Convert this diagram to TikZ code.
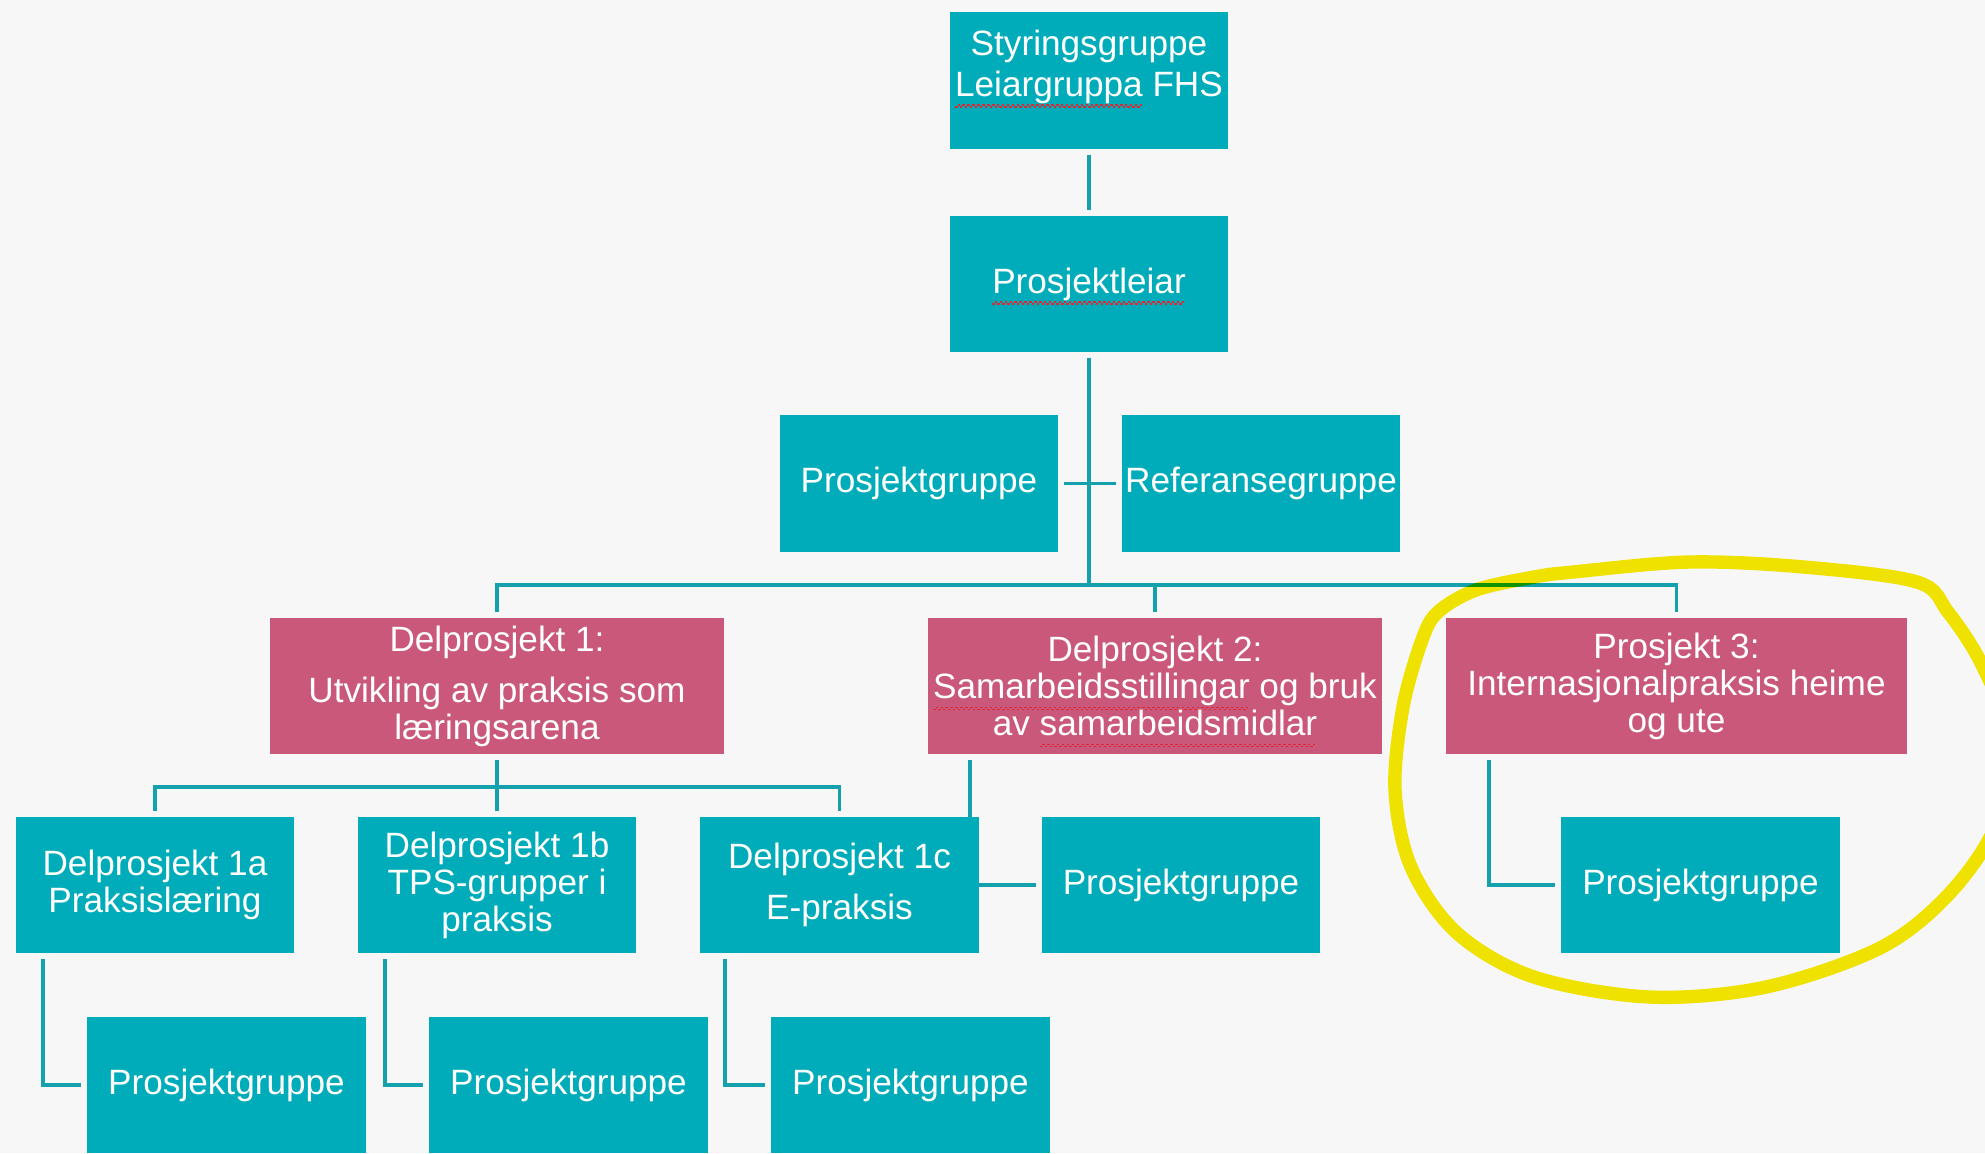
\documentclass[tikz,border=0pt]{standalone}
\usepackage{fontspec}
\setmainfont{Liberation Sans}
\usetikzlibrary{positioning, calc, backgrounds}
\definecolor{boxTeal}{RGB}{0,172,185}
\definecolor{boxPink}{RGB}{202,88,122}
\definecolor{lineTeal}{RGB}{20,160,172}
\definecolor{ringYellow}{RGB}{247,234,0}
\definecolor{pageGray}{RGB}{247,247,247}
\definecolor{spellRed}{RGB}{225,40,50}
\newcommand{\spellWave}[1]{\leavevmode\setbox0\hbox{#1}\rlap{\smash{\color{spellRed}\hbox to \wd0{\leaders\hbox{\rule[-3.3pt]{0.7pt}{0.45pt}\rule[-2.8pt]{0.7pt}{0.45pt}}\hfill}}}#1}
\tikzset{
	every text node part/.style = {align=center},
	orgBox/.style = {fill=boxTeal, text=white, inner sep=0pt, minimum width=2.78cm, minimum height=1.36cm},
	partBox/.style = {orgBox, fill=boxPink, minimum width=4.54cm},
	orgLine/.style = {draw=lineTeal, line width=1.1pt},
	gapBoth/.style = {shorten <=1.5pt, shorten >=1.5pt}
}

\begin{document}
\begin{tikzpicture}[x=0.01cm, y=-0.01cm]
	\useasboundingbox (0,0) rectangle (1985,1153);
	\tikzstyle{every node}=[font=\fontsize{10}{10.5}\selectfont]
	
	\pgfmathsetmacro{\yTop}{80.5}
	\pgfmathsetmacro{\yLead}{284}
	\pgfmathsetmacro{\yGroup}{483.5}
	\pgfmathsetmacro{\yBus}{585}
	\pgfmathsetmacro{\ySub}{686}
	\pgfmathsetmacro{\ySubBus}{787}
	\pgfmathsetmacro{\yPart}{885}
	\pgfmathsetmacro{\yLow}{1085}
	
	\node [orgBox] (styr) at (1089,\yTop) {};
	\node [text=white, font=\fontsize{10}{11.5}\selectfont] (styrText) at ([yshift=3.9pt]styr.center) {Styringsgruppe\\\spellWave{Leiargruppa} FHS};
	\node [orgBox] (leiar) at (1089,\yLead) {\spellWave{Prosjektleiar}};
	\node [orgBox] (grpTop) at (919,\yGroup) {Prosjektgruppe};
	\node [orgBox] (refGrp) at (1261,\yGroup) {Referansegruppe};
	
	\node [partBox] (dp1) at (497,\ySub) {Delprosjekt 1:\\[4pt]Utvikling av praksis som\\læringsarena};
	\node [partBox] (dp2) at (1155,\ySub) {Delprosjekt 2:\\\spellWave{Samarbeidsstillingar} og bruk\\av \spellWave{samarbeidsmidlar}};
	\node [partBox, minimum width=4.61cm] (p3) at (1676.5,\ySub) {Prosjekt 3:\\Internasjonalpraksis heime\\og ute};
	
	\node [orgBox] (dp1a) at (155,\yPart) {Delprosjekt 1a\\Praksislæring};
	\node [orgBox] (dp1b) at (497,\yPart) {Delprosjekt 1b\\TPS-grupper i\\praksis};
	\node [orgBox] (dp1c) at (839.5,\yPart) {Delprosjekt 1c\\[4pt]E-praksis};
	\node [orgBox] (grpDp2) at (1181,\yPart) {Prosjektgruppe};
	\node [orgBox] (grpP3) at (1700.5,\yPart) {Prosjektgruppe};
	
	\node [orgBox] (grp1a) at (226.5,\yLow) {Prosjektgruppe};
	\node [orgBox] (grp1b) at (568.5,\yLow) {Prosjektgruppe};
	\node [orgBox] (grp1c) at (910.5,\yLow) {Prosjektgruppe};
	
	\coordinate (hub) at (1089,\yBus);
	\coordinate (subHub) at (497,\ySubBus);
	
	\begin{scope}[on background layer]
		\fill [pageGray] (0,0) rectangle (1985,1153);
		\draw [orgLine, gapBoth] (styr) -- (leiar);
		\draw [orgLine, shorten <=1.5pt] (leiar) -- (hub);
		\draw [orgLine, gapBoth] (grpTop) -- (refGrp);
		\draw [orgLine, gapBoth] (dp1.north) |- (hub) -| (p3.north);
		\draw [orgLine, shorten <=1.5pt] (dp2.north) -- (dp2.north |- hub);
		\draw [orgLine, shorten <=1.5pt] (dp1) -- (subHub);
		\draw [orgLine, gapBoth] (dp1a.north) |- (subHub) -| (dp1c.north);
		\draw [orgLine, shorten <=1.5pt] (dp1b) -- (subHub);
		\draw [orgLine, gapBoth] ([xshift=0.28cm]dp1a.south west) |- (grp1a.west);
		\draw [orgLine, gapBoth] ([xshift=0.28cm]dp1b.south west) |- (grp1b.west);
		\draw [orgLine, gapBoth] ([xshift=0.25cm]dp1c.south west) |- (grp1c.west);
		\draw [orgLine, gapBoth] ([xshift=0.43cm]dp2.south west) |- (grpDp2.west);
		\draw [orgLine, gapBoth] ([xshift=0.44cm]p3.south west) |- (grpP3.west);
	\end{scope}
	
	\draw [ringYellow, line width=3.8pt, line join=round, blend mode=multiply] plot [smooth cycle, tension=0.55] coordinates {(1438,612) (1476,590) (1534,577) (1573,572) (1689,562) (1804,567) (1917,582) (1948,612) (1982,665) (2012,745) (1995,827) (1948,895) (1880,948) (1766,987) (1650,997) (1534,977) (1457,933) (1411,867) (1395,790) (1403,707) (1422,640)};
	
\end{tikzpicture}
\end{document}
